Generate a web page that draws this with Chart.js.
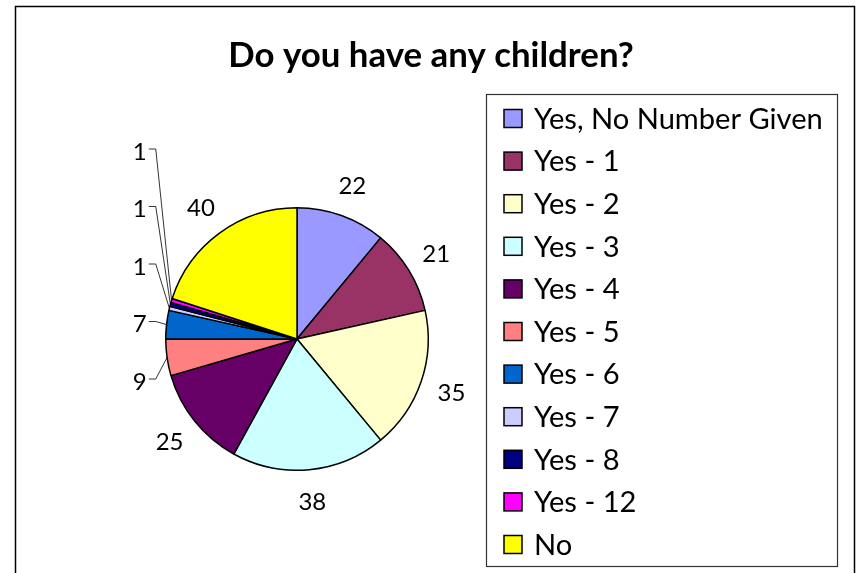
<!DOCTYPE html>
<html>
<head>
<meta charset="utf-8">
<title>Do you have any children?</title>
<script src="https://cdn.jsdelivr.net/npm/chart.js@4.4.0/dist/chart.umd.min.js"></script>
<style>
    html, body { margin: 0; padding: 0; background: #ffffff; }
    canvas { display: block; }
</style>
</head>
<body>
<canvas id="childrenChart" width="857" height="573"></canvas>
<script>
/* ---------- DATA ---------- */
const chartTitle = "Do you have any children?";
const categories = ["Yes, No Number Given", "Yes - 1", "Yes - 2", "Yes - 3", "Yes - 4",
                    "Yes - 5", "Yes - 6", "Yes - 7", "Yes - 8", "Yes - 12", "No"];
const counts = [22, 21, 35, 38, 25, 9, 7, 1, 1, 1, 40];
const sliceColors = ["#9999FF", "#993366", "#FFFFCC", "#CCFFFF", "#660066",
                     "#FF8080", "#0066CC", "#CCCCFF", "#000080", "#FF00FF", "#FFFF00"];

const FONT = "Lato, 'Open Sans', sans-serif";

// fit a string into a width by scaling the font size
function fitFont(ctx, text, weight, width) {
    ctx.font = weight + " 40px " + FONT;
    const size = 40 * width / ctx.measureText(text).width;
    return weight + " " + size.toFixed(1) + "px " + FONT;
}

/* ---------- FRAME, TITLE, LEGEND ---------- */
const decorPlugin = {
    id: 'decor',
    afterDraw(chart) {
        const ctx = chart.ctx;
        ctx.save();

        // outer frame
        ctx.strokeStyle = "#000";
        ctx.lineWidth = 1.5;
        ctx.strokeRect(15.5, 6.5, 839, 600);

        // title
        ctx.fillStyle = "#000";
        ctx.font = fitFont(ctx, chartTitle, "bold", 405);
        ctx.textAlign = "center";
        ctx.textBaseline = "alphabetic";
        ctx.fillText(chartTitle, 431, 67);

        // legend box
        ctx.lineWidth = 1.2;
        ctx.strokeStyle = "#333";
        ctx.strokeRect(486.5, 94.5, 351, 472);

        ctx.font = fitFont(ctx, categories[0], "normal", 289);
        ctx.textAlign = "left";
        ctx.textBaseline = "middle";
        const colors = chart.data.datasets[0].backgroundColor;
        chart.data.labels.forEach((lab, i) => {
            const y = 118.5 + i * 42.6;
            ctx.fillStyle = colors[i];
            ctx.fillRect(504, y - 9, 18, 18);
            ctx.lineWidth = 1.5;
            ctx.strokeStyle = "#000";
            ctx.strokeRect(504, y - 9, 18, 18);
            ctx.fillStyle = "#000";
            ctx.fillText(lab, 534, y + 1);
        });
        ctx.restore();
    }
};

/* ---------- VALUE LABELS ---------- */
const valueLabelPlugin = {
    id: 'valueLabels',
    afterDatasetsDraw(chart) {
        const ctx = chart.ctx;
        const meta = chart.getDatasetMeta(0);
        const values = chart.data.datasets[0].data;
        // small slices are stacked on the left with leader lines (bottom first)
        const smallIdx = values.map((v, i) => i).filter(i => values[i] < 10);

        ctx.save();
        ctx.font = "24px " + FONT;
        ctx.fillStyle = "#000";
        ctx.strokeStyle = "#000";
        ctx.lineWidth = 0.8;

        meta.data.forEach((arc, i) => {
            const p = arc.getProps(['x', 'y', 'startAngle', 'endAngle', 'outerRadius'], true);
            const mid = (p.startAngle + p.endAngle) / 2;
            const dx = Math.cos(mid), dy = Math.sin(mid);
            const text = String(values[i]);

            if (values[i] >= 10) {
                const d = p.outerRadius + 32;
                ctx.textAlign = "center";
                ctx.textBaseline = "middle";
                ctx.fillText(text, p.x + dx * d, p.y + dy * d + 1);
            } else {
                const slot = smallIdx.indexOf(i);
                const lx = p.x - p.outerRadius - 19;
                const ly = p.y + 42 - slot * 57.5;
                ctx.textAlign = "right";
                ctx.textBaseline = "middle";
                ctx.fillText(text, lx, ly + 1);
                const ex = p.x + dx * p.outerRadius;
                const ey = p.y + dy * p.outerRadius;
                ctx.beginPath();
                ctx.moveTo(lx + 2, ly - 2);
                ctx.lineTo(lx + 9, ly - 2);
                ctx.lineTo(ex, ey);
                ctx.stroke();
            }
        });
        ctx.restore();
    }
};

/* ---------- PIE ---------- */
document.addEventListener("DOMContentLoaded", () => {
    const ctx = document.getElementById("childrenChart").getContext('2d');
    new Chart(ctx, {
        type: "pie",
        data: {
            labels: categories,
            datasets: [{
                data: counts,
                backgroundColor: sliceColors,
                borderColor: "#000",
                borderWidth: 1.5,
                hoverOffset: 0
            }]
        },
        options: {
            responsive: false,
            animation: false,
            layout: {
                padding: { left: 165, right: 428, top: 207, bottom: 102 }
            },
            plugins: {
                legend: { display: false },
                title: { display: false },
                tooltip: { enabled: false }
            }
        },
        plugins: [valueLabelPlugin, decorPlugin]
    });
});
</script>
</body>
</html>
